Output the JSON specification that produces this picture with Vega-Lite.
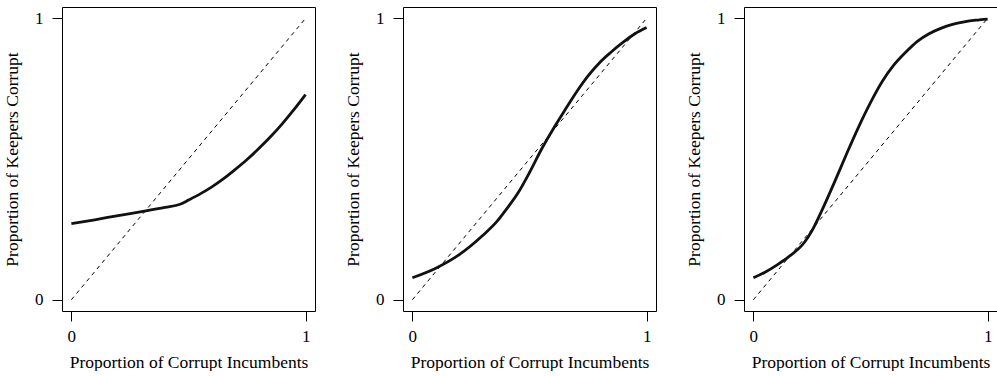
{
  "$schema": "https://vega.github.io/schema/vega-lite/v6.json",
  "background": "white",
  "padding": {"left": 3, "top": 6, "right": 0, "bottom": 0},
  "bounds": "flush",
  "spacing": 88,
  "datasets": {
    "diag": [{"x": 0, "y": 0}, {"x": 1, "y": 1}],
    "c1": [
      {"x": 0, "y": 0.27}, {"x": 0.1, "y": 0.284}, {"x": 0.2, "y": 0.299}, {"x": 0.3, "y": 0.313},
      {"x": 0.4, "y": 0.328}, {"x": 0.464, "y": 0.339}, {"x": 0.5, "y": 0.354}, {"x": 0.55, "y": 0.376},
      {"x": 0.6, "y": 0.401}, {"x": 0.65, "y": 0.43}, {"x": 0.7, "y": 0.463}, {"x": 0.75, "y": 0.498},
      {"x": 0.8, "y": 0.537}, {"x": 0.85, "y": 0.579}, {"x": 0.9, "y": 0.625}, {"x": 0.95, "y": 0.675},
      {"x": 1, "y": 0.729}
    ],
    "c2": [
      {"x": 0, "y": 0.078}, {"x": 0.1, "y": 0.112}, {"x": 0.2, "y": 0.16}, {"x": 0.3, "y": 0.228},
      {"x": 0.362, "y": 0.279}, {"x": 0.4, "y": 0.32}, {"x": 0.45, "y": 0.378}, {"x": 0.5, "y": 0.452},
      {"x": 0.55, "y": 0.533}, {"x": 0.6, "y": 0.605}, {"x": 0.65, "y": 0.672}, {"x": 0.7, "y": 0.737},
      {"x": 0.75, "y": 0.795}, {"x": 0.8, "y": 0.843}, {"x": 0.85, "y": 0.881}, {"x": 0.9, "y": 0.915},
      {"x": 0.95, "y": 0.945}, {"x": 1, "y": 0.967}
    ],
    "c3": [
      {"x": 0, "y": 0.078}, {"x": 0.05, "y": 0.098}, {"x": 0.1, "y": 0.123}, {"x": 0.15, "y": 0.152},
      {"x": 0.219, "y": 0.205}, {"x": 0.25, "y": 0.245}, {"x": 0.3, "y": 0.331}, {"x": 0.35, "y": 0.425},
      {"x": 0.4, "y": 0.522}, {"x": 0.45, "y": 0.615}, {"x": 0.5, "y": 0.7}, {"x": 0.55, "y": 0.775},
      {"x": 0.6, "y": 0.834}, {"x": 0.65, "y": 0.879}, {"x": 0.7, "y": 0.918}, {"x": 0.75, "y": 0.945},
      {"x": 0.8, "y": 0.964}, {"x": 0.85, "y": 0.978}, {"x": 0.9, "y": 0.987}, {"x": 0.95, "y": 0.993},
      {"x": 1, "y": 0.997}
    ]
  },
  "config": {
    "view": {"stroke": "black", "strokeWidth": 1},
    "font": "Liberation Serif",
    "axis": {
      "domain": false, "grid": false, "ticks": true, "tickColor": "black", "tickSize": 10, "tickWidth": 1,
      "labelFont": "Liberation Serif", "labelFontSize": 17, "labelColor": "black", "format": "d",
      "titleFont": "Liberation Serif", "titleFontSize": 17.5, "titleFontWeight": "normal", "titleColor": "black"
    },
    "axisX": {"labelPadding": 7, "titlePadding": 9},
    "axisY": {"labelPadding": 9, "titlePadding": 13, "labelAngle": 0}
  },
  "hconcat": [
    {
      "width": 253, "height": 304,
      "encoding": {
        "x": {"field": "x", "type": "quantitative", "scale": {"domain": [-0.04, 1.04], "nice": false, "zero": false}, "axis": {"values": [0, 1], "title": "Proportion of Corrupt Incumbents"}},
        "y": {"field": "y", "type": "quantitative", "scale": {"domain": [-0.04, 1.04], "nice": false, "zero": false}, "axis": {"values": [0, 1], "title": "Proportion of Keepers Corrupt"}}
      },
      "layer": [
        {"data": {"name": "diag"}, "mark": {"type": "line", "color": "black", "strokeWidth": 1, "strokeDash": [4, 4]}},
        {"data": {"name": "c1"}, "mark": {"type": "line", "color": "#111111", "strokeWidth": 2.8, "interpolate": "monotone"}}
      ]
    },
    {
      "width": 253, "height": 304,
      "encoding": {
        "x": {"field": "x", "type": "quantitative", "scale": {"domain": [-0.04, 1.04], "nice": false, "zero": false}, "axis": {"values": [0, 1], "title": "Proportion of Corrupt Incumbents"}},
        "y": {"field": "y", "type": "quantitative", "scale": {"domain": [-0.04, 1.04], "nice": false, "zero": false}, "axis": {"values": [0, 1], "title": "Proportion of Keepers Corrupt"}}
      },
      "layer": [
        {"data": {"name": "diag"}, "mark": {"type": "line", "color": "black", "strokeWidth": 1, "strokeDash": [4, 4]}},
        {"data": {"name": "c2"}, "mark": {"type": "line", "color": "#111111", "strokeWidth": 2.8, "interpolate": "monotone"}}
      ]
    },
    {
      "width": 253, "height": 304,
      "encoding": {
        "x": {"field": "x", "type": "quantitative", "scale": {"domain": [-0.04, 1.04], "nice": false, "zero": false}, "axis": {"values": [0, 1], "title": "Proportion of Corrupt Incumbents"}},
        "y": {"field": "y", "type": "quantitative", "scale": {"domain": [-0.04, 1.04], "nice": false, "zero": false}, "axis": {"values": [0, 1], "title": "Proportion of Keepers Corrupt"}}
      },
      "layer": [
        {"data": {"name": "diag"}, "mark": {"type": "line", "color": "black", "strokeWidth": 1, "strokeDash": [4, 4]}},
        {"data": {"name": "c3"}, "mark": {"type": "line", "color": "#111111", "strokeWidth": 2.8, "interpolate": "monotone"}}
      ]
    }
  ]
}
